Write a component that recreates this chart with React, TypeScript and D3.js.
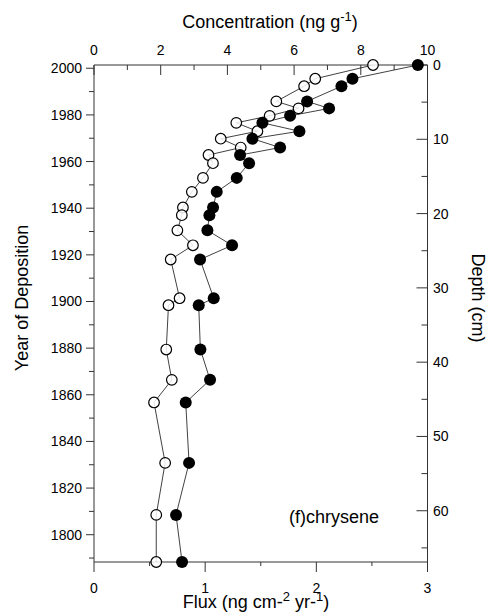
import React from 'react'
import * as d3 from 'd3'

// sample years (shared by both series)
const years = [2001.4, 1995.5, 1992.3, 1985.8, 1982.8, 1979.6, 1976.6, 1973.0, 1969.8, 1966.0,
  1962.8, 1959.3, 1953.0, 1947.0, 1940.3, 1937.0, 1930.5, 1924.1, 1918.0, 1901.4,
  1898.4, 1879.4, 1866.4, 1856.7, 1830.8, 1808.5, 1788.3]

// open circles, bottom axis
const flux = [2.51, 1.99, 1.89, 1.64, 1.84, 1.58, 1.28, 1.47, 1.14, 1.32,
  1.03, 1.07, 0.98, 0.88, 0.80, 0.79, 0.75, 0.89, 0.69, 0.77,
  0.67, 0.65, 0.70, 0.54, 0.64, 0.56, 0.56]

// filled circles, top axis
const concentration = [9.71, 7.75, 7.42, 6.39, 7.05, 5.88, 5.05, 6.16, 4.75, 5.58,
  4.38, 4.65, 4.28, 3.68, 3.57, 3.46, 3.40, 4.14, 3.18, 3.59,
  3.14, 3.19, 3.48, 2.75, 2.85, 2.46, 2.64]

const fluxTicks = [0, 1, 2, 3]
const concTicks = [0, 2, 4, 6, 8, 10]
const yearTicks = [1800, 1820, 1840, 1860, 1880, 1900, 1920, 1940, 1960, 1980, 2000]
const depthTicks = [0, 10, 20, 30, 40, 50, 60]
const label = '(f)chrysene'

const App = () => {
  var width = 492
  var height = 614
  var left = 94
  var right = 427.5
  var top = 65
  var bottom = 562
  var font = '"Liberation Sans", Arial, sans-serif'
  var axisColor = '#333'

  const x = d3.scaleLinear().domain([0, 3]).range([left, right])
  const xTop = d3.scaleLinear().domain([0, 10]).range([left, right])
  const y = d3.scaleLinear().domain([1788.3, 2001.4]).range([bottom, top])
  const yRight = d3.scaleLinear().domain([0, 66.9]).range([top, bottom])

  const fluxLine = d3.line<number>().x(d => x(d)).y((d, i) => y(years[i]))
  const concLine = d3.line<number>().x(d => xTop(d)).y((d, i) => y(years[i]))

  const bottomMinor = d3.range(0.5, 3, 1).map(v =>
    <line key={'bm' + v} x1={x(v)} x2={x(v)} y1={bottom} y2={bottom + 4} stroke={axisColor}/>)
  const bottomMajor = fluxTicks.map(v =>
    <g key={'bt' + v}>
      <line x1={x(v)} x2={x(v)} y1={bottom} y2={bottom + 10} stroke={axisColor}/>
      <text x={x(v)} y={593} textAnchor="middle" fontSize={14}>{v}</text>
    </g>)

  const topMinor = d3.range(1, 10, 2).map(v =>
    <line key={'tm' + v} x1={xTop(v)} x2={xTop(v)} y1={top} y2={top + 5} stroke={axisColor}/>)
  const topMajor = concTicks.map(v =>
    <g key={'tt' + v}>
      <line x1={xTop(v)} x2={xTop(v)} y1={top} y2={top + 10} stroke={axisColor}/>
      <text x={xTop(v)} y={55} textAnchor="middle" fontSize={14}>{v}</text>
    </g>)

  const leftMinor = d3.range(1790, 2001, 20).map(v =>
    <line key={'lm' + v} x1={left - 5} x2={left} y1={y(v)} y2={y(v)} stroke={axisColor}/>)
  const leftMajor = yearTicks.map(v =>
    <g key={'lt' + v}>
      <line x1={left - 8} x2={left} y1={y(v)} y2={y(v)} stroke={axisColor}/>
      <text x={82} y={y(v) + 5} textAnchor="end" fontSize={14}>{v}</text>
    </g>)

  const rightMinor = d3.range(5, 66, 10).map(v =>
    <line key={'rm' + v} x1={right - 6} x2={right} y1={yRight(v)} y2={yRight(v)} stroke={axisColor}/>)
  const rightMajor = depthTicks.map(v =>
    <g key={'rt' + v}>
      <line x1={right - 11} x2={right} y1={yRight(v)} y2={yRight(v)} stroke={axisColor}/>
      <text x={433} y={yRight(v) + 5} fontSize={14}>{v}</text>
    </g>)

  return (
    <svg width={width} height={height} style={{position: 'absolute', left: 0, top: 0, background: 'white'}} fontFamily={font}>
      <rect x={0} y={0} width={width} height={height} fill="white"/>
      <g>
        <line x1={left} x2={right} y1={bottom} y2={bottom} stroke={axisColor}/>
        <line x1={left} x2={right} y1={top} y2={top} stroke={axisColor}/>
        <line x1={left} x2={left} y1={top} y2={bottom} stroke={axisColor}/>
        <line x1={right} x2={right} y1={top} y2={bottom} stroke={axisColor}/>
        { bottomMinor }{ bottomMajor }
        { topMinor }{ topMajor }
        { leftMinor }{ leftMajor }
        { rightMinor }{ rightMajor }
      </g>

      <path d={fluxLine(flux) || ''} fill="none" stroke="#111" strokeWidth={0.8}/>
      <path d={concLine(concentration) || ''} fill="none" stroke="#111" strokeWidth={0.8}/>
      <g>{ flux.map((d, i) =>
        <circle key={'o' + i} cx={x(d)} cy={y(years[i])} r={5.3} fill="white" fillOpacity={0.85} stroke="black" strokeWidth={1.2}/>) }</g>
      <g>{ concentration.map((d, i) =>
        <circle key={'f' + i} cx={xTop(d)} cy={y(years[i])} r={6} fill="black"/>) }</g>

      <text x={289} y={523} fontSize={18}>{label}</text>

      <text x={270} y={28} textAnchor="middle" fontSize={18}>
        Concentration (ng g<tspan dy={-7} fontSize={13}>-1</tspan><tspan dy={7}>)</tspan>
      </text>
      <text x={256} y={608} textAnchor="middle" fontSize={18}>
        Flux (ng cm-<tspan dy={-7} fontSize={13}>2</tspan><tspan dy={7}> yr-</tspan><tspan dy={-7} fontSize={13}>1</tspan><tspan dy={7}>)</tspan>
      </text>
      <text transform="translate(28,298) rotate(-90)" textAnchor="middle" fontSize={18}>Year of Deposition</text>
      <text transform="translate(472,298) rotate(90)" textAnchor="middle" fontSize={18}>Depth (cm)</text>
    </svg>
  )
}

export default App
